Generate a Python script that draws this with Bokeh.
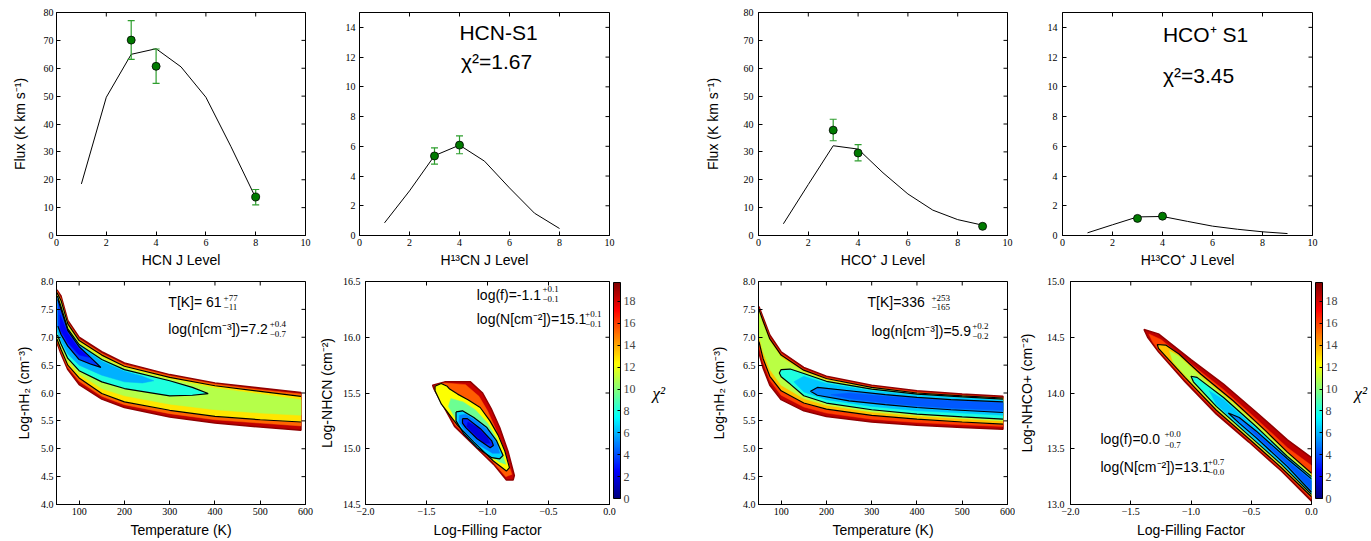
import math
import numpy as np
from bokeh.plotting import figure
from bokeh.layouts import column, row
from bokeh.models import (Range1d, LinearAxis, FixedTicker, Label, ColorBar,
                          LinearColorMapper, CustomJSTickFormatter)
from bokeh.embed import file_html
from bokeh.resources import INLINE

SANS = "Liberation Sans"
SERIF = "Liberation Serif"

# ---------------- top row data ----------------
hcn_J_model = [1, 2, 3, 4, 5, 6, 7, 8]
hcn_flux_model = [18.5, 49.6, 65.0, 67.0, 60.5, 49.6, 32.0, 13.5]
hcn_J_obs = [3, 4, 8]
hcn_flux_obs = [70.1, 60.7, 13.8]
hcn_err_lo = [63.2, 54.6, 11.0]
hcn_err_hi = [77.1, 66.9, 16.5]

h13cn_J_model = [1, 2, 3, 4, 5, 6, 7, 8]
h13cn_flux_model = [0.85, 3.0, 5.37, 6.08, 5.0, 3.2, 1.5, 0.47]
h13cn_J_obs = [3, 4]
h13cn_flux_obs = [5.35, 6.08]
h13cn_err_lo = [4.8, 5.5]
h13cn_err_hi = [5.9, 6.7]

hco_J_model = [1, 2, 3, 4, 5, 6, 7, 8, 9]
hco_flux_model = [4.2, 18.3, 32.2, 31.0, 22.5, 14.9, 9.1, 5.7, 3.7]
hco_J_obs = [3, 4, 9]
hco_flux_obs = [37.8, 29.6, 3.3]
hco_err_lo = [34.0, 26.8, 3.1]
hco_err_hi = [41.7, 32.6, 3.5]

h13co_J_model = [1, 2, 3, 4, 5, 6, 7, 8, 9]
h13co_flux_model = [0.18, 0.72, 1.25, 1.28, 0.95, 0.63, 0.42, 0.25, 0.13]
h13co_J_obs = [3, 4]
h13co_flux_obs = [1.15, 1.30]
h13co_err_lo = [1.08, 1.23]
h13co_err_hi = [1.22, 1.37]

J_ticks = [0, 2, 4, 6, 8, 10]
flux_ticks_big = [0, 10, 20, 30, 40, 50, 60, 70, 80]
flux_ticks_small = [0, 2, 4, 6, 8, 10, 12, 14]

# ---------------- chi2 contour data ----------------
CB_HIGH = 19.73
cb_ticks = [0, 2, 4, 6, 8, 10, 12, 14, 16, 18]
T_ticks = [100, 200, 300, 400, 500, 600]
n_ticks = [4.0, 4.5, 5.0, 5.5, 6.0, 6.5, 7.0, 7.5, 8.0]
f_ticks = [-2.0, -1.5, -1.0, -0.5, 0.0]
Nhcn_ticks = [14.5, 15.0, 15.5, 16.0, 16.5]
Nhco_ticks = [13.0, 13.5, 14.0, 14.5, 15.0]

T_grid = [51, 60, 75, 100, 150, 200, 300, 400, 500, 590]
T_grid_rev = T_grid[::-1]

# each contour: (level, fill chi2, xu, yu, xl, yl, outline mode)
hcn_Tn = [
    (19.7, 18.5, T_grid, [7.85, 7.74, 7.30, 7.00, 6.74, 6.54, 6.33, 6.18, 6.09, 6.01],
     T_grid_rev, [5.33, 5.39, 5.46, 5.57, 5.74, 5.89, 6.15, 6.42, 6.70, 6.90], None),
    (16.5, 15.3, T_grid, [7.83, 7.70, 7.27, 6.97, 6.71, 6.51, 6.31, 6.16, 6.06, 5.98],
     T_grid_rev, [5.41, 5.46, 5.52, 5.63, 5.79, 5.94, 6.21, 6.46, 6.74, 6.93], None),
    (13.5, 12.8, T_grid, [7.80, 7.66, 7.24, 6.94, 6.68, 6.48, 6.28, 6.13, 6.03, 5.94],
     T_grid_rev, [5.48, 5.52, 5.58, 5.69, 5.84, 5.99, 6.27, 6.50, 6.78, 6.97], "two"),
    (10.5, 10.9, T_grid, [7.76, 7.60, 7.19, 6.90, 6.64, 6.45, 6.25, 6.09, 5.98, 5.88],
     T_grid_rev, [5.60, 5.64, 5.70, 5.80, 5.95, 6.08, 6.34, 6.56, 6.83, 7.00], None),
    (7.9, 8.0, [52, 60, 75, 100, 150, 200, 300, 350, 385], [7.74, 7.55, 7.15, 6.87, 6.60, 6.42, 6.22, 6.10, 5.99],
     [350, 300, 200, 150, 100, 75, 60, 52], [5.96, 5.95, 6.08, 6.20, 6.40, 6.62, 6.88, 7.04], "open_left"),
    (6.0, 5.9, [52, 60, 75, 100, 150, 200, 240, 265], [7.72, 7.52, 7.13, 6.85, 6.57, 6.39, 6.30, 6.22],
     [240, 200, 150, 100, 75, 60, 52], [6.18, 6.20, 6.32, 6.50, 6.70, 6.94, 7.10], None),
    (4.0, 3.6, [53, 60, 75, 100, 125, 148], [7.68, 7.50, 7.12, 6.83, 6.64, 6.46],
     [125, 100, 75, 60, 53], [6.52, 6.60, 6.84, 7.05, 7.20], "open_left"),
    (2.8, 2.4, [58, 75, 100, 122], [7.40, 7.07, 6.79, 6.64],
     [100, 75, 58], [6.68, 6.90, 7.14], None),
]

hcn_fN = [
    (19.7, 18.3, [-1.45, -1.35, -1.14, -1.04, -0.97, -0.90, -0.83, -0.78, -0.79, -0.845, -0.95, -1.11, -1.27, -1.44],
     [15.57, 15.60, 15.60, 15.50, 15.36, 15.19, 14.97, 14.76, 14.72, 14.72, 14.86, 15.03, 15.20, 15.54], [], [], None),
    (16.5, 15.5, [-1.43, -1.35, -1.18, -1.07, -1.00, -0.93, -0.86, -0.80, -0.85, -0.95, -1.11, -1.265, -1.42],
     [15.565, 15.59, 15.575, 15.47, 15.34, 15.17, 14.97, 14.77, 14.75, 14.875, 15.045, 15.215, 15.54], [], [], None),
    (13.5, 12.3, [-1.43, -1.38, -1.33, -1.31, -1.245, -1.16, -1.06, -0.98, -0.912, -0.858, -0.82, -0.845, -0.952, -1.112, -1.245, -1.378, -1.43],
     [15.56, 15.585, 15.56, 15.535, 15.49, 15.44, 15.37, 15.25, 15.12, 14.98, 14.83, 14.80, 14.89, 15.06, 15.21, 15.40, 15.52], [], [], "closed"),
    (10.5, 9.5, [-1.30, -1.20, -1.10, -1.00, -0.93, -0.88, -0.85, -0.90, -1.00, -1.12, -1.24, -1.32],
     [15.45, 15.42, 15.35, 15.23, 15.10, 14.96, 14.86, 14.88, 14.95, 15.08, 15.23, 15.38], [], [], None),
    (7.9, 6.6, [-1.258, -1.205, -1.112, -1.005, -0.925, -0.872, -0.90, -0.965, -1.085, -1.192, -1.258],
     [15.33, 15.34, 15.28, 15.19, 15.07, 14.94, 14.91, 14.92, 15.01, 15.13, 15.25], [], [], "closed"),
    (6.0, 5.0, [-1.23, -1.18, -1.09, -0.99, -0.92, -0.90, -0.96, -1.08, -1.18, -1.235],
     [15.30, 15.31, 15.25, 15.16, 15.04, 14.96, 14.96, 15.04, 15.15, 15.24], [], [], None),
    (4.0, 3.2, [-1.205, -1.165, -1.058, -0.965, -0.952, -0.978, -1.085, -1.178, -1.205],
     [15.27, 15.27, 15.18, 15.07, 15.03, 15.01, 15.09, 15.19, 15.23], [], [], "closed"),
    (2.5, 1.8, [-1.16, -1.08, -1.00, -0.98, -1.03, -1.10, -1.17],
     [15.24, 15.19, 15.10, 15.05, 15.05, 15.12, 15.20], [], [], None),
]

hco_Tn = [
    (19.7, 18.5, T_grid, [7.55, 7.36, 7.04, 6.74, 6.46, 6.30, 6.14, 6.04, 5.98, 5.94],
     T_grid_rev, [5.35, 5.38, 5.42, 5.48, 5.58, 5.68, 5.88, 6.14, 6.45, 6.72], None),
    (16.5, 16.0, T_grid, [7.52, 7.32, 7.00, 6.71, 6.43, 6.28, 6.12, 6.02, 5.96, 5.92],
     T_grid_rev, [5.40, 5.43, 5.47, 5.53, 5.64, 5.75, 5.96, 6.23, 6.55, 6.82], None),
    (15.3, 13.5, T_grid, [7.50, 7.29, 6.97, 6.68, 6.41, 6.26, 6.10, 6.00, 5.95, 5.91],
     T_grid_rev, [5.44, 5.48, 5.53, 5.60, 5.71, 5.82, 6.04, 6.30, 6.62, 6.92], "two"),
    (12.5, 11.0, T_grid, [7.45, 7.23, 6.93, 6.64, 6.38, 6.23, 6.08, 5.99, 5.94, 5.90],
     T_grid_rev, [5.50, 5.54, 5.59, 5.66, 5.78, 5.90, 6.14, 6.42, 6.74, 7.02], None),
    (9.6, 8.0, [96, 100, 120, 150, 200, 300, 400, 500, 590], [6.36, 6.42, 6.43, 6.35, 6.21, 6.07, 5.98, 5.93, 5.89],
     [590, 500, 400, 300, 200, 150, 120, 100], [5.53, 5.57, 5.62, 5.70, 5.82, 5.95, 6.16, 6.29], "open_right"),
    (7.5, 6.3, [128, 150, 200, 300, 400, 500, 590], [6.20, 6.30, 6.17, 6.04, 5.96, 5.91, 5.87],
     [590, 500, 400, 300, 200, 150], [5.60, 5.64, 5.68, 5.76, 5.88, 6.02], None),
    (5.75, 5.0, [165, 180, 250, 330, 400, 475, 590], [6.03, 6.10, 6.04, 5.97, 5.92, 5.88, 5.84],
     [590, 475, 400, 330, 250, 180], [5.65, 5.70, 5.74, 5.79, 5.86, 5.96], "open_right"),
    (4.5, 4.2, [210, 250, 330, 400, 475, 590], [5.97, 6.00, 5.94, 5.90, 5.86, 5.82],
     [590, 475, 400, 330, 250], [5.69, 5.73, 5.77, 5.82, 5.90], None),
]

hco_fN = [
    (19.7, 18.5, [-1.39, -1.27, -1.00, -0.73, -0.46, -0.20, 0.0], [14.57, 14.53, 14.30, 14.08, 13.83, 13.58, 13.42],
     [0.0, -0.25, -0.52, -0.79, -1.05, -1.27, -1.36], [13.03, 13.30, 13.56, 13.81, 14.10, 14.37, 14.50], None),
    (16.5, 16.0, [-1.35, -1.25, -1.00, -0.73, -0.46, -0.20, 0.0], [14.53, 14.48, 14.26, 14.03, 13.77, 13.51, 13.35],
     [0.0, -0.25, -0.52, -0.79, -1.05, -1.27, -1.32], [13.05, 13.315, 13.575, 13.83, 14.12, 14.385, 14.46], None),
    (15.3, 13.5, [-1.28, -1.21, -1.10, -0.92, -0.65, -0.38, -0.20, 0.0], [14.435, 14.43, 14.35, 14.17, 13.93, 13.66, 13.47, 13.28],
     [0.0, -0.25, -0.52, -0.79, -1.05, -1.27], [13.07, 13.33, 13.59, 13.845, 14.14, 14.40], "open_right"),
    (12.5, 11.0, [-1.18, -1.10, -0.92, -0.65, -0.38, -0.20, 0.0], [14.38, 14.33, 14.15, 13.91, 13.645, 13.455, 13.27],
     [0.0, -0.25, -0.52, -0.79, -1.05, -1.15], [13.08, 13.345, 13.605, 13.86, 14.16, 14.28], None),
    (9.6, 8.0, [-1.00, -0.95, -0.73, -0.46, -0.20, 0.0], [14.15, 14.14, 13.96, 13.70, 13.43, 13.25],
     [0.0, -0.25, -0.52, -0.79, -0.98], [13.09, 13.36, 13.62, 13.88, 14.10], "open_right"),
    (7.5, 6.3, [-0.85, -0.73, -0.46, -0.20, 0.0], [14.02, 13.94, 13.68, 13.42, 13.24],
     [0.0, -0.25, -0.52, -0.79], [13.10, 13.37, 13.635, 13.90], None),
    (5.75, 5.0, [-0.69, -0.60, -0.46, -0.20, 0.0], [13.82, 13.78, 13.66, 13.41, 13.23],
     [0.0, -0.20, -0.46, -0.60], [13.11, 13.34, 13.60, 13.73], "open_right"),
    (4.5, 4.2, [-0.55, -0.46, -0.20, 0.0], [13.72, 13.645, 13.39, 13.21],
     [0.0, -0.20, -0.46], [13.13, 13.36, 13.62], None),
]


def jet_t(t):
    t = max(0.0, min(1.0, t))
    r = min(max(min(4 * t - 1.5, -4 * t + 4.5), 0.0), 1.0)
    g = min(max(min(4 * t - 0.5, -4 * t + 3.5), 0.0), 1.0)
    b = min(max(min(4 * t + 0.5, -4 * t + 2.5), 0.0), 1.0)
    return "#%02x%02x%02x" % (int(r * 255), int(g * 255), int(b * 255))


def jet(v):
    return jet_t(v / CB_HIGH)


JET256 = [jet_t(i / 255.0) for i in range(256)]


def fmt(dec):
    return CustomJSTickFormatter(code="return tick.toFixed(%d).replace('-', '\\u2212');" % dec)


def make_fig(w, h, lb, rb, tb, bb, xr, yr, xt, yt, xdec, ydec, xlabel, ylabel,
             ytick_sd, ylab_sd, xtick_sd, xlab_sd):
    p = figure(width=w, height=h, x_range=Range1d(*xr), y_range=Range1d(*yr),
               output_backend="svg", toolbar_location=None,
               min_border_left=lb, min_border_right=rb, min_border_top=tb, min_border_bottom=bb)
    p.xgrid.visible = False
    p.ygrid.visible = False
    p.outline_line_color = "black"
    p.outline_line_alpha = 1.0
    p.outline_line_width = 1
    p.background_fill_color = "white"
    p.border_fill_color = "white"
    for ax, ticks, dec, lab, tsd, lsd in ((p.xaxis[0], xt, xdec, xlabel, xtick_sd, xlab_sd),
                                          (p.yaxis[0], yt, ydec, ylabel, ytick_sd, ylab_sd)):
        ax.ticker = FixedTicker(ticks=ticks)
        ax.formatter = fmt(dec)
        ax.major_tick_in = 4
        ax.major_tick_out = 0
        ax.minor_tick_line_color = None
        ax.axis_line_color = "black"
        ax.major_tick_line_color = "black"
        ax.major_label_text_font = SERIF
        ax.major_label_text_font_size = "10px"
        ax.major_label_text_color = "black"
        ax.major_label_standoff = tsd
        ax.axis_label = lab
        ax.axis_label_text_font = SANS
        ax.axis_label_text_font_size = "14px"
        ax.axis_label_text_font_style = "normal"
        ax.axis_label_text_color = "black"
        ax.axis_label_standoff = lsd
    return p


def mirror_ticks(p, xt, yt, xr, yr):
    # inward tick marks on the top and right edges (half of each dash is clipped by the frame)
    p.scatter(xt, [yr[1]] * len(xt), marker="dash", angle=math.pi / 2, size=8,
              line_color="black", line_width=1)
    p.scatter([xr[1]] * len(yt), yt, marker="dash", size=8, line_color="black", line_width=1)


def txt(p, x, y, s, size, font=SANS, align="left", baseline="middle", style="normal"):
    p.add_layout(Label(x=x, y=y, text=s, text_font=font, text_font_size=size,
                       text_align=align, text_baseline=baseline, text_font_style=style,
                       text_color="black"))


def sup_sub(p, x, y_sup, y_sub, s_sup, s_sub):
    txt(p, x, y_sup, s_sup, "9px", font=SERIF)
    txt(p, x, y_sub, s_sub, "9px", font=SERIF)


def draw_sed(p, Jm, Fm, Jo, Fo, lo, hi):
    p.line(Jm, Fm, line_color="black", line_width=1)
    p.segment(x0=Jo, y0=lo, x1=Jo, y1=hi, line_color="#2e9e2e", line_width=1.2)
    p.scatter(Jo, lo, marker="dash", size=7, line_color="#2e9e2e", line_width=1.2)
    p.scatter(Jo, hi, marker="dash", size=7, line_color="#2e9e2e", line_width=1.2)
    p.scatter(Jo, Fo, marker="circle", size=8, fill_color="#007a00", line_color="black", line_width=0.8)


def draw_contours(p, conts):
    for i, (lev, fv, xu, yu, xl, yl, mode) in enumerate(conts):
        xs = list(xu) + list(xl)
        ys = list(yu) + list(yl)
        if i == 0:
            p.patch(xs, ys, fill_color=jet(fv), line_color=jet(19.4), line_width=1.5)
        else:
            p.patch(xs, ys, fill_color=jet(fv), line_color=jet(fv), line_width=0.5)
    for (lev, fv, xu, yu, xl, yl, mode) in conts:
        kw = dict(line_color="black", line_width=1.2)
        if mode == "two":
            p.line(list(xu), list(yu), **kw)
            p.line(list(xl), list(yl), **kw)
        elif mode == "open_left":
            p.line(list(xu) + list(xl), list(yu) + list(yl), **kw)
        elif mode == "open_right":
            p.line(list(xu)[::-1] + list(xl)[::-1], list(yu)[::-1] + list(yl)[::-1], **kw)
        elif mode == "closed":
            p.line(list(xu) + [xu[0]], list(yu) + [yu[0]], **kw)


def add_cbar(p):
    cmap = LinearColorMapper(palette=JET256, low=0, high=CB_HIGH)
    cb = ColorBar(color_mapper=cmap, ticker=FixedTicker(ticks=cb_ticks), width=7, height=216,
                  padding=0, margin=0, location=(4, 6),
                  major_label_text_font=SERIF, major_label_text_font_size="12px",
                  major_tick_in=3, major_tick_out=0, major_tick_line_color="black",
                  minor_tick_line_color=None, bar_line_color="black", label_standoff=3,
                  background_fill_color=None, border_line_color=None)
    p.add_layout(cb, "right")
    lab_axis = LinearAxis(ticker=FixedTicker(ticks=[]), axis_line_color=None,
                          major_tick_line_color=None, minor_tick_line_color=None,
                          axis_label="χ²", axis_label_text_font=SERIF,
                          axis_label_text_font_size="17px", axis_label_text_font_style="italic",
                          axis_label_text_color="black", axis_label_standoff=14,
                          axis_label_orientation="horizontal")
    p.add_layout(lab_axis, "right")


# ---------------- top row ----------------
f1 = make_fig(330, 270, 56, 25, 12, 34, (0, 10), (0, 80), J_ticks, flux_ticks_big, 0, 0,
              "HCN J Level", "Flux (K km s⁻¹)", 3, 13, 3, 3)
mirror_ticks(f1, J_ticks, flux_ticks_big, (0, 10), (0, 80))
draw_sed(f1, hcn_J_model, hcn_flux_model, hcn_J_obs, hcn_flux_obs, hcn_err_lo, hcn_err_hi)

f2 = make_fig(360, 270, 29, 81, 12, 34, (0, 10), (0, 15), J_ticks, flux_ticks_small, 0, 0,
              "H¹³CN J Level", "", 4, 0, 3, 3)
mirror_ticks(f2, J_ticks, flux_ticks_small, (0, 10), (0, 15))
draw_sed(f2, h13cn_J_model, h13cn_flux_model, h13cn_J_obs, h13cn_flux_obs, h13cn_err_lo, h13cn_err_hi)
txt(f2, 5.56, 13.65, "HCN-S1", "21px", align="center")
txt(f2, 5.48, 11.70, "χ²=1.67", "21px", align="center")

f3 = make_fig(330, 270, 68, 13, 12, 34, (0, 10), (0, 80), J_ticks, flux_ticks_big, 0, 0,
              "HCO⁺ J Level", "Flux (K km s⁻¹)", 5, 20, 3, 3)
mirror_ticks(f3, J_ticks, flux_ticks_big, (0, 10), (0, 80))
draw_sed(f3, hco_J_model, hco_flux_model, hco_J_obs, hco_flux_obs, hco_err_lo, hco_err_hi)

f4 = make_fig(351, 270, 42, 59, 12, 34, (0, 10), (0, 15), J_ticks, flux_ticks_small, 0, 0,
              "H¹³CO⁺ J Level", "", 5, 0, 3, 3)
mirror_ticks(f4, J_ticks, flux_ticks_small, (0, 10), (0, 15))
draw_sed(f4, h13co_J_model, h13co_flux_model, h13co_J_obs, h13co_flux_obs, h13co_err_lo, h13co_err_hi)
txt(f4, 5.72, 13.52, "HCO⁺ S1", "21px", align="center")
txt(f4, 5.44, 10.76, "χ²=3.45", "21px", align="center")

# ---------------- bottom row ----------------
f5 = make_fig(315, 271, 56, 10, 11, 37, (50, 600), (4, 8), T_ticks, n_ticks, 0, 1,
              "Temperature (K)", "Log-nH₂ (cm⁻³)", 3, 6, 3, 4)
draw_contours(f5, hcn_Tn)
mirror_ticks(f5, T_ticks, n_ticks, (50, 600), (4, 8))
txt(f5, 297, 7.64, "T[K]= 61", "14px")
sup_sub(f5, 419, 7.71, 7.55, "+77", "−11")
txt(f5, 297, 7.14, "log(n[cm⁻³])=7.2", "14px")
sup_sub(f5, 521, 7.23, 7.05, "+0.4", "−0.7")

f6 = make_fig(375, 271, 44, 81, 11, 37, (-2, 0), (14.5, 16.5), f_ticks, Nhcn_ticks, 1, 1,
              "Log-Filling Factor", "Log-NHCN (cm⁻²)", 5, 5, 3, 4)
draw_contours(f6, hcn_fN)
mirror_ticks(f6, f_ticks, Nhcn_ticks, (-2, 0), (14.5, 16.5))
add_cbar(f6)
txt(f6, -1.088, 16.383, "log(f)=-1.1", "14px")
sup_sub(f6, -0.55, 16.43, 16.34, "+0.1", "−0.1")
txt(f6, -1.088, 16.168, "log(N[cm⁻²])=15.1", "14px")
sup_sub(f6, -0.20, 16.213, 16.123, "+0.1", "−0.1")

f7 = make_fig(325, 271, 68, 8, 11, 37, (50, 600), (4, 8), T_ticks, n_ticks, 0, 1,
              "Temperature (K)", "Log-nH₂ (cm⁻³)", 3, 13, 3, 4)
draw_contours(f7, hco_Tn)
mirror_ticks(f7, T_ticks, n_ticks, (50, 600), (4, 8))
txt(f7, 290.8, 7.64, "T[K]=336", "14px")
sup_sub(f7, 432, 7.71, 7.55, "+253", "−165")
txt(f7, 299.6, 7.12, "log(n[cm⁻³])=5.9", "14px")
sup_sub(f7, 522, 7.21, 7.03, "+0.2", "−0.2")

f8 = make_fig(356, 271, 47, 60, 11, 37, (-2, 0), (13, 15), f_ticks, Nhco_ticks, 1, 1,
              "Log-Filling Factor", "Log-NHCO+ (cm⁻²)", 6, 9, 3, 4)
draw_contours(f8, hco_fN)
mirror_ticks(f8, f_ticks, Nhco_ticks, (-2, 0), (13, 15))
add_cbar(f8)
txt(f8, -1.751, 13.583, "log(f)=0.0", "14px")
sup_sub(f8, -1.22, 13.628, 13.538, "+0.0", "−0.7")
txt(f8, -1.751, 13.332, "log(N[cm⁻²])=13.1", "14px")
sup_sub(f8, -0.86, 13.377, 13.287, "+0.7", "−0.0")

layout = column(row(f1, f2, f3, f4), row(f5, f6, f7, f8))
open("out.html", "w").write(file_html(layout, INLINE))
